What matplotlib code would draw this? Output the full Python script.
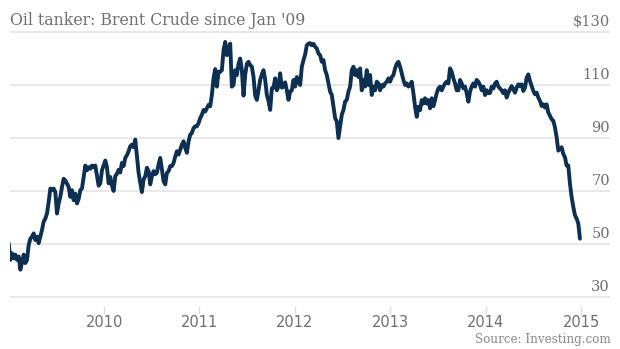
import matplotlib
matplotlib.use("Agg")
import matplotlib.pyplot as plt
import matplotlib.dates as mdates
import matplotlib.transforms as mtransforms
import numpy as np
import pandas as pd

# Brent crude, USD per barrel at ~weekly steps
# (segments are roughly one calendar year each)
prices_2009 = [50.3, 44, 46.5, 44.6, 46, 44, 45.3, 40.3, 43, 46, 42.8, 44, 49.6, 52, 52.8, 54,
               51.5, 52.8, 50.3, 52.8, 55.3, 58.4, 59.6, 61.5, 65.9, 70.9, 70.3, 70.9, 69.6, 61.5,
               65.3, 67.8, 71.5, 74.6, 74, 72.8, 71.5, 67.8, 70.3, 66.5, 69, 65.3, 67, 70.3, 70.9,
               75.3, 79.6, 77.8, 79, 78.4, 79.6, 79, 79.6, 75.9, 72, 72.9, 77.8, 79.6, 81.5, 79,
               72.9, 75.3]
prices_2010 = [72, 70, 75.6, 76.5, 78, 77, 80.6, 79.4, 82.5, 83.5, 85, 86.9, 87.5, 86.5, 89.4,
               83, 76.9, 73.1, 69.6, 74.4, 75.6, 78.75, 77.5, 72.5, 75.6, 77.5, 76.3, 76.9, 80,
               82.5, 78, 73.75, 72.5, 76.9, 77.5, 79.4, 79.4, 80.6, 83, 85, 83.75, 85.6, 87.5,
               88.75, 86.25, 84.4, 88.75, 91.25, 91.9, 93.75, 94.4, 94.4, 95.6, 97.5, 98.75,
               100.6, 100]
prices_2011 = [101.25, 102.5, 102, 106.25, 112.5, 116, 109.4, 115, 115, 115.6, 123.1, 126.25,
               121.25, 124, 125.6, 109.4, 110, 115.6, 113.75, 118, 120, 115.6, 106, 113.75, 118,
               118.75, 117.5, 116.9, 113, 106, 104.4, 108, 111.9, 114, 115.6, 112, 106.25, 104,
               100.6, 108.75, 109, 112.5, 108, 109.4, 114.4, 109, 109.4, 111, 108, 104.4, 107.5,
               108, 111.9, 109.4, 113, 111.25, 110, 116.9, 119.4, 121.5]
prices_2012 = [125, 125.6, 125.8, 125, 125.5, 124.4, 123.75, 121.9, 121.25, 118.75, 119.4,
               115.6, 113.75, 110.6, 107.5, 106.25, 101.9, 97.5, 96.25, 90, 94.4, 98.75, 100.6,
               103.75, 104.4, 107.5, 109.4, 115.6, 116.9, 113.75, 115.6, 113, 116.25, 108, 112,
               109.4, 115.6, 110, 113.75, 106.25, 109.4, 108, 111.25, 110.6, 108, 110, 109.4,
               110.6, 111.25, 112.5, 111.25, 113, 113.75, 116.25, 118, 118.75, 116.9, 114.4,
               111.9, 110]
prices_2013 = [110.6, 109.4, 110, 111.25, 106.9, 101.8, 98, 101.8, 100.5, 104.3, 103, 105, 103,
               104.3, 101.2, 105, 102, 104.3, 106.9, 108.7, 109.4, 108, 109.4, 110.6, 111.25,
               110.6, 116.3, 115, 112.5, 110.6, 108, 108, 111.9, 110.6, 108.7, 109.4, 106.9,
               103.7, 107.5, 109.4, 110.6, 109.4, 111.9, 111.25, 110, 108, 109.4, 106.2, 108,
               106.9, 107, 109.4, 108.7, 110.6, 111.25, 109.4, 108.7, 108, 106.9, 108]
prices_2014 = [105.25, 107.1, 108.4, 109.6, 108.4, 107.1, 109, 110.25, 109.6, 110.25, 107.75,
               109, 112.75, 114, 111.5, 109.6, 107.75, 106.5, 107.1, 105.25, 104, 102.1, 102.7,
               101.5, 102.7, 99.6, 98.4, 97.1, 96.5, 94, 90.25, 85.25, 85.9, 86.5, 84, 82.75,
               79.6, 79.6, 72.75, 67.75, 64, 60.9, 59.6, 57.75, 52]

prices = np.array(prices_2009 + prices_2010 + prices_2011 + prices_2012 + prices_2013 + prices_2014)
dates = pd.date_range("2009-01-01", "2014-12-27", periods=len(prices))

year_ticks = [2010, 2011, 2012, 2013, 2014, 2015]
price_ticks = [30, 50, 70, 90, 110, 130]

title = "Oil tanker: Brent Crude since Jan '09"
source = "Source: Investing.com"

LINE = "#0d2f51"
GRID = "#e6e6e6"
TEXT = "#6f6f6f"
FONT = "DejaVu Serif"

fig = plt.figure(figsize=(6.2, 3.49), dpi=100)
W, H = 620, 349
top_px, bot_px = 32 - 2.65, 297 + 2.65
ax = fig.add_axes([10 / W, 1 - bot_px / H, 600 / W, (bot_px - top_px) / H])

ax.plot(dates, prices, color=LINE, lw=2.8, solid_joinstyle="round", solid_capstyle="round")

ax.set_ylim(29, 131)
ax.set_xlim(pd.Timestamp("2009-01-06"), pd.Timestamp("2015-04-21"))

ax.set_yticks(price_ticks)
ax.yaxis.grid(True, color=GRID, lw=1.3)
ax.tick_params(axis="y", length=0, labelleft=False)
ax.set_axisbelow(True)

ax.set_xticks([pd.Timestamp(f"{y}-01-01") for y in year_ticks])
ax.xaxis.set_major_formatter(mdates.DateFormatter("%Y"))
ax.tick_params(axis="x", length=5.8, width=1, color="#dddddd", pad=1,
               labelsize=10.5, labelcolor=TEXT)
for lbl in ax.get_xticklabels():
    lbl.set_horizontalalignment("left")
    lbl.set_fontfamily(FONT)

for s in ax.spines.values():
    s.set_visible(False)
ax.spines["bottom"].set_position(("outward", 4.5))

# price labels sit just above each gridline at the right edge
trans = mtransforms.blended_transform_factory(ax.transAxes, ax.transData)
off = mtransforms.offset_copy(trans, fig=fig, x=0, y=3, units="dots")
for v in price_ticks:
    lab = f"${v}" if v == price_ticks[-1] else str(v)
    ax.text(1.0, v, lab, transform=off, ha="right", va="bottom",
            fontsize=10.5, color=TEXT, family=FONT)

ax.text(0.0, price_ticks[-1], title, transform=off, ha="left", va="bottom",
        fontsize=11.3, color=TEXT, family=FONT)

fig.text(611 / W, 1 - 339 / H, source, ha="right", va="center",
         fontsize=8.6, color="#8a8a8a", family=FONT)

fig.savefig("out.png", dpi=100)
